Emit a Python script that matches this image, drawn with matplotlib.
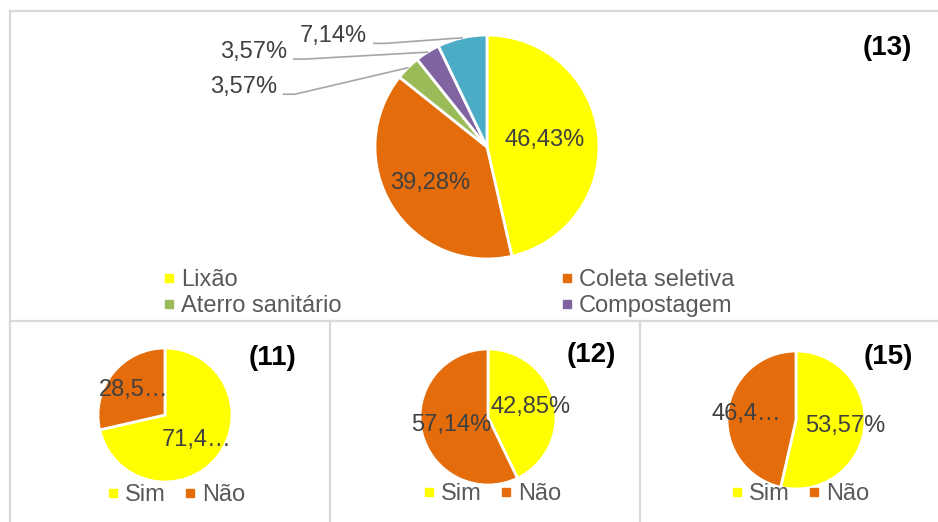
import matplotlib
matplotlib.use("Agg")
import matplotlib.pyplot as plt
import numpy as np
from matplotlib.lines import Line2D

plt.rcParams["font.family"] = ["Liberation Sans", "DejaVu Sans"]

# question 13: destination of waste
destino_labels = ["Lixão", "Coleta seletiva", "Aterro sanitário", "Compostagem", "Outros"]
destino_values = [46.43, 39.28, 3.57, 3.57, 7.14]
destino_text = ["46,43%", "39,28%", "3,57%", "3,57%", "7,14%"]
destino_colors = ["#FFFF00", "#E46C0A", "#9BBB59", "#8064A2", "#4BACC6"]

# questions 11, 12, 15: yes / no
sim_nao = ["Sim", "Não"]
sim_nao_colors = ["#FFFF00", "#E46C0A"]
q11_values = [71.43, 28.57]
q11_text = ["71,4…", "28,5…"]
q12_values = [42.85, 57.14]
q12_text = ["42,85%", "57,14%"]
q15_values = [53.57, 46.43]
q15_text = ["53,57%", "46,4…"]

W, H = 938, 522
LABEL_C = "#404040"
LEGEND_C = "#595959"
GRID_C = "#D9D9D9"

fig = plt.figure(figsize=(W / 100, H / 100), dpi=100)


def fx(x):
    return x / W


def fy(y):
    return 1 - y / H


def pie_axes(cx, cy, r):
    return fig.add_axes([fx(cx - r), fy(cy + r), 2 * r / W, 2 * r / H])


def draw_pie(ax, values, colors):
    wedges, _ = ax.pie(values, colors=colors, startangle=90, counterclock=False,
                       wedgeprops=dict(edgecolor="white", linewidth=2))
    ax.set_xlim(-1, 1)
    ax.set_ylim(-1, 1)
    return wedges


def mid(w):
    t = np.deg2rad((w.theta1 + w.theta2) / 2)
    return np.cos(t), np.sin(t)


# frame lines
for xs, ys in [((10, W), (11, 11)), ((10, 10), (11, H)), ((10, W), (321, 321)),
               ((330, 330), (321, H)), ((640, 640), (321, H))]:
    fig.add_artist(Line2D([fx(v) for v in xs], [fy(v) for v in ys],
                          color=GRID_C, lw=1.6, transform=fig.transFigure))

# top pie (13)
ax = pie_axes(487, 147, 112)
wedges = draw_pie(ax, destino_values, destino_colors)
inner_dist = [0.52, 0.6]
for w, txt, d in zip(wedges[:2], destino_text[:2], inner_dist):
    c, s = mid(w)
    ax.text(d * c, d * s, txt, ha="center", va="center", fontsize=17, color=LABEL_C)
outside_pos = [(-1.875, 0.536), (-1.785, 0.85), (-1.07, 0.99)]
for w, txt, (tx, ty) in zip(wedges[2:], destino_text[2:], outside_pos):
    c, s = mid(w)
    ax.text(tx, ty, txt, ha="right", va="center", fontsize=17, color=LABEL_C)
    ax.plot([tx + 0.06, tx + 0.16, c], [ty - 0.065, ty - 0.065, s],
            color="#A6A6A6", lw=1.2, clip_on=False)

handles = [Line2D([], [], marker="s", ls="", color=c, markersize=5.5)
           for c in destino_colors[:4]]
order = [0, 2, 1, 3]
fig.legend([handles[i] for i in order], [destino_labels[i] for i in order],
           ncol=2, loc="upper left", bbox_to_anchor=(fx(163), fy(269)),
           frameon=False, fontsize=17, labelcolor=LEGEND_C, handlelength=0.5,
           handletextpad=0.25, columnspacing=9.3, labelspacing=0.18,
           borderpad=0, borderaxespad=0)
fig.text(fx(887), fy(48), "(13)", fontsize=20, fontweight="bold",
         ha="center", va="center")

# bottom pies
small = [
    ((165, 415, 67), q11_values, q11_text, [0.6, 0.6], (176, 495), (272, 358), "(11)"),
    ((488, 417, 68), q12_values, q12_text, [0.64, 0.55], (492, 494), (591, 355), "(12)"),
    ((796, 420, 69), q15_values, q15_text, [0.72, 0.72], (800, 494), (888, 357), "(15)"),
]
for (cx, cy, r), vals, texts, dists, (lx, ly), (tx, ty), title in small:
    ax = pie_axes(cx, cy, r)
    wedges = draw_pie(ax, vals, sim_nao_colors)
    for w, txt, d in zip(wedges, texts, dists):
        c, s = mid(w)
        ax.text(d * c, d * s, txt, ha="center", va="center", fontsize=17,
                color=LABEL_C)
    hs = [Line2D([], [], marker="s", ls="", color=c, markersize=5.5)
          for c in sim_nao_colors]
    fig.legend(hs, sim_nao, ncol=2, loc="center", bbox_to_anchor=(fx(lx), fy(ly)),
               frameon=False, fontsize=17, labelcolor=LEGEND_C, handlelength=0.5,
               handletextpad=0.25, columnspacing=0.8, borderpad=0, borderaxespad=0)
    fig.text(fx(tx), fy(ty), title, fontsize=20, fontweight="bold",
             ha="center", va="center")

fig.savefig("out.png", dpi=100, facecolor="white")
